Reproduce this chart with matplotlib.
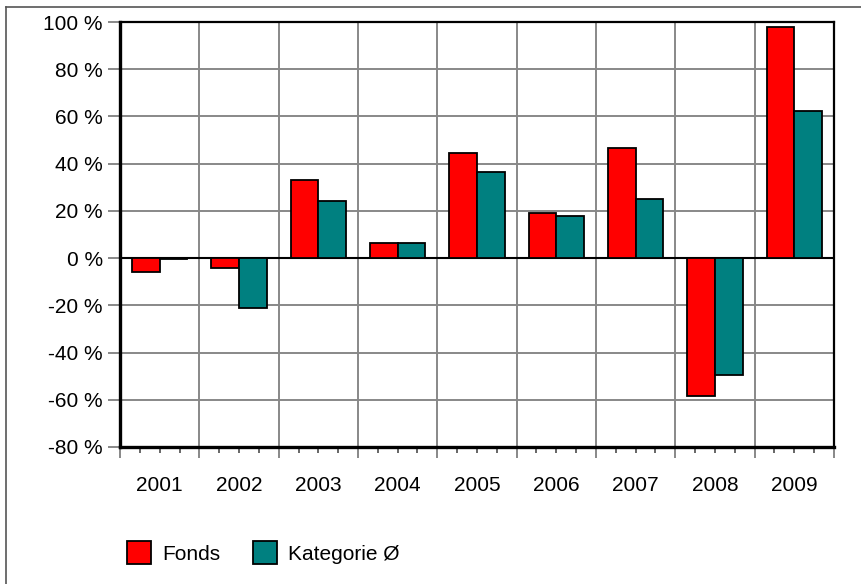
import numpy as np
import matplotlib.pyplot as plt
from matplotlib.lines import Line2D

plt.rcParams['font.family'] = ['Liberation Sans', 'DejaVu Sans']

years = ['2001', '2002', '2003', '2004', '2005', '2006', '2007', '2008', '2009']
fonds = [-6, -4, 33, 6.5, 44.5, 19, 46.5, -58.5, 98]
kategorie = [-0.4, -21, 24, 6.5, 36.5, 18, 25, -49.5, 62.5]
y_ticks = [-80, -60, -40, -20, 0, 20, 40, 60, 80, 100]

W, H = 861, 584
fig = plt.figure(figsize=(W / 100, H / 100), dpi=100)
ax = fig.add_axes([120 / W, (H - 447) / H, 714 / W, 425 / H])

n = len(years)
x = np.arange(n)
bw = 0.35
ax.bar(x - bw / 2, fonds, bw, color='#ff0000', edgecolor='black', linewidth=1.3,
       label='Fonds', zorder=3)
ax.bar(x + bw / 2, kategorie, bw, color='#008080', edgecolor='black', linewidth=1.3,
       label='Kategorie Ø', zorder=3)
ax.axhline(0, color='black', linewidth=1.5, zorder=2)

ax.set_xlim(-0.5, n - 0.5)
ax.set_ylim(-80, 100)

# y-Achse
ax.set_yticks(y_ticks, labels=[f'{v} %' for v in y_ticks])
ax.tick_params(axis='y', length=8.5, width=1.4, color='#888888', pad=4,
               labelsize=15, labelcolor='black')

# x-Achse: Hauptstriche an den Grenzen, Nebenstriche je Viertel
bounds = np.arange(n + 1) - 0.5
ax.set_xticks(bounds, labels=[''] * len(bounds))
minor_pos = []
minor_lab = []
for i in range(n):
    for k, off in enumerate([-0.25, 0.0, 0.25]):
        minor_pos.append(i + off)
        minor_lab.append(years[i] if k == 1 else '')
ax.set_xticks(minor_pos, labels=minor_lab, minor=True)
ax.tick_params(axis='x', which='major', length=8, width=1.4, color='#888888')
ax.tick_params(axis='x', which='minor', length=4, width=1.4, color='#666666',
               pad=17, labelsize=15)

ax.grid(True, which='major', color='#888888', linewidth=1.4, zorder=0)
ax.set_axisbelow(True)

for side in ['left', 'bottom']:
    ax.spines[side].set_linewidth(2.4)
for side in ['top', 'right']:
    ax.spines[side].set_linewidth(1.6)

fig.legend(loc='lower left', bbox_to_anchor=(127 / W, (H - 564) / H), ncol=2,
           frameon=False, fontsize=15, handlelength=1.15, handleheight=1.3,
           handletextpad=0.55, columnspacing=1.55, borderpad=0, borderaxespad=0)

# äußerer Rahmen (nur links und oben sichtbar)
fig.add_artist(Line2D([6 / W, 6 / W], [0, 1 - 7 / H], color='#555555', linewidth=1.2))
fig.add_artist(Line2D([6 / W, 1], [1 - 7 / H, 1 - 7 / H], color='#555555', linewidth=1.2))

fig.savefig('out.png', dpi=100)
